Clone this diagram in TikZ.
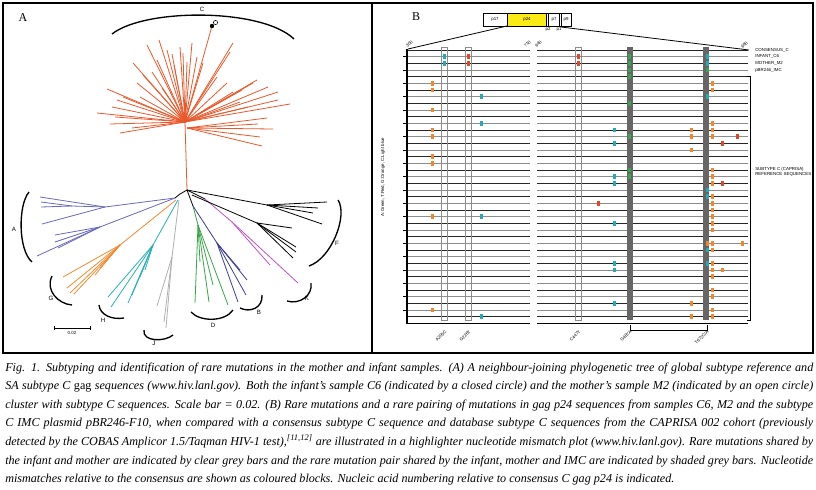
\documentclass[tikz,border=0pt]{standalone}
\usepackage{fontspec}
\setmainfont{Liberation Serif}
\setsansfont{Liberation Sans}
\usetikzlibrary{positioning}

\definecolor{subC}{RGB}{232,88,42}
\definecolor{subA}{RGB}{105,105,185}
\definecolor{subG}{RGB}{240,138,48}
\definecolor{subH}{RGB}{40,175,185}
\definecolor{subJ}{RGB}{175,175,175}
\definecolor{subD}{RGB}{55,165,70}
\definecolor{subB}{RGB}{60,60,150}
\definecolor{subK}{RGB}{195,80,195}
\definecolor{mmOrange}{RGB}{240,135,45}
\definecolor{mmCyan}{RGB}{35,170,180}
\definecolor{mmRed}{RGB}{225,70,40}
\definecolor{mmGreen}{RGB}{55,165,80}
\definecolor{geneYellow}{RGB}{250,235,20}

\tikzset{
  branch/.style={line width=0.6pt},
  brack/.style={line width=1pt},
  panel/.style={font=\fontsize{9}{10}\selectfont, inner sep=0pt},
  tlab/.style={font=\sffamily\fontsize{4.6}{5}\selectfont, inner sep=0pt},
  tiny/.style={font=\sffamily\fontsize{3.3}{3.6}\selectfont, inner sep=0pt},
  capline/.style={anchor=base west, inner sep=0pt, font=\itshape\fontsize{9.1}{11}\selectfont},
  clearbar/.style={draw=black!45, line width=0.5pt},
  shadebar/.style={fill=black!60},
}
\newcommand{\rowy}[1]{50+#1*6.6667}

\begin{document}
\begin{tikzpicture}[x=0.75pt,y=-0.75pt]
  \useasboundingbox (0,0) rectangle (816,489);
  \draw[line width=0.9pt] (3,3) rectangle (813,353);
  \draw[line width=0.9pt] (372,3) -- (372,353);

  % ---- panel A : tree
  \node[panel] (labA) at (23,18) {A};
  \coordinate (hub) at (185,122);
  \coordinate (hubb) at (187,128);
  \coordinate (root) at (187,190);
  \draw[branch,subC] (hub) -- (root);
  \foreach \ex/\ey in {147/45,159/40,167/50,172/54,174/65,183/53,192/43,187/62,197/57,203/63,
      233/43,230/52,137/83,143/75,133/63,157/60,152/72,107/89,117/100,112/107,97/113,115/117,
      110/124,120/133,132/128,140/97,123/97,227/83,233/92,242/90,253/83,257/80,268/87,278/92,
      278/100,290/104,217/77,240/102,248/107,180/47,162/88}
    \draw[branch,subC] (hub) -- (\ex,\ey);
  \foreach \ex/\ey in {267/118,258/124,273/129,260/137,262/146}
    \draw[branch,subC] (hubb) -- (\ex,\ey);
  \draw[branch,subC] (hub) -- (212,26) coordinate (cs);
  \fill (212,26) circle (2.2);
  \draw[fill=white,line width=0.4pt] (215.5,22.5) circle (2.1);

  % lower part of the tree
  \coordinate (nl) at (175,198);
  \coordinate (nr) at (193,206);
  \draw[branch] (root) -- (180,194) -- (nl);
  \draw[branch] (root) -- (nr);
  \draw[branch,subA] (nl) -- (105,207) coordinate (a1);
  \draw[branch,subA] (a1) -- (40,197);
  \draw[branch,subA] (a1) -- (72,206) -- (41,202);
  \draw[branch,subA] (72,206) -- (41,207);
  \draw[branch,subA] (a1) -- (42,224);
  \draw[branch,subA] (nl) -- (100,227) coordinate (a2);
  \foreach \ex/\ey in {55/235,55/242,58/248,37/256}
    \draw[branch,subA] (a2) -- (\ex,\ey);
  \draw[branch,subG] (176,200) -- (120,245) coordinate (g1);
  \foreach \ex/\ey in {63/277,67/288,70/293,74/294,95/275,100/268}
    \draw[branch,subG] (g1) -- (\ex,\ey);
  \draw[branch,subH] (178,200) -- (153,245) coordinate (h1);
  \foreach \ex/\ey in {108/297,111/307,128/303,140/277,132/295,145/270}
    \draw[branch,subH] (h1) -- (\ex,\ey);
  \draw[branch,subJ] (179,200) -- (172,257) coordinate (j1);
  \foreach \ex/\ey in {157/306,164/322,166/328}
    \draw[branch,subJ] (j1) -- (\ex,\ey);
  \draw[branch,subD] (nr) -- (198,225) coordinate (d1);
  \foreach \ex/\ey in {195/303,209/302,213/285,228/305,200/262}
    \draw[branch,subD] (d1) -- (\ex,\ey);
  \draw[branch,subB] (nr) -- (217,243) coordinate (b1);
  \foreach \ex/\ey in {238/302,246/295,247/280,240/270}
    \draw[branch,subB] (b1) -- (\ex,\ey);
  \draw[branch] (root) -- (205,199) coordinate (k0);
  \draw[branch,subK] (k0) -- (232,222) coordinate (k1);
  \draw[branch,subK] (k1) -- (298,283);
  \draw[branch,subK] (k1) -- (270,265);
  \draw[branch] (root) -- (267,205) coordinate (f1);
  \foreach \ex/\ey in {327/202,318/208,313/213,322/224}
    \draw[branch] (f1) -- (\ex,\ey);
  \draw[branch] (192,195) -- (257,223) coordinate (f2);
  \foreach \ex/\ey in {292/228,296/247,296/252,293/258}
    \draw[branch] (f2) -- (\ex,\ey);

  % clade brackets
  \draw[brack] (112,34) .. controls (145,8) and (262,8) .. (294,39);
  \node[tlab] (labC) at (202,9) {C};
  \draw[brack] (29,192) .. controls (18,205) and (18,250) .. (32,262);
  \node[tlab] (labAA) at (14,229) {A};
  \draw[brack] (52,276) .. controls (45,290) and (58,304) .. (72,305);
  \node[tlab] (labG) at (51,298) {G};
  \draw[brack] (99,305) .. controls (100,315) and (112,320) .. (124,318);
  \node[tlab] (labH) at (103,320) {H};
  \draw[brack] (144,330) .. controls (142,342) and (165,342) .. (173,335);
  \node[tlab] (labJ) at (154,343) {J};
  \draw[brack] (191,312) .. controls (200,322) and (225,322) .. (233,310);
  \node[tlab] (labD) at (213,325) {D};
  \draw[brack] (240,308) .. controls (250,313) and (263,308) .. (262,295);
  \node[tlab] (labB) at (259,312) {B};
  \draw[brack] (287,301) .. controls (300,305) and (313,295) .. (311,283);
  \node[tlab] (labK) at (307,298) {K};
  \draw[brack] (338,200) .. controls (348,215) and (332,258) .. (309,266);
  \node[tlab] (labF) at (337,243) {F};

  % scale bar
  \draw[line width=0.6pt] (54,328) -- (90,328);
  \draw[line width=0.6pt] (54,326) -- (54,330) (90,326) -- (90,330);
  \node[tiny] (scl) at (72,333) {0.02};

  % ---- panel B : mismatch plot
  \node[panel] (labBB) at (416,17) {B};
  \node[tiny,rotate=90] (key) at (383,177) {A:Green, T:Red, G:Orange, C:Light blue};

  \fill[geneYellow] (507,13) rectangle (546,26);
  \draw[line width=0.5pt] (483,13) rectangle (571,26);
  \foreach \xx in {507,546,548,559,561} \draw[line width=0.5pt] (\xx,13) -- (\xx,26);
  \node[tiny] (p17) at (495,19.5) {p17};
  \node[tiny] (p24) at (527,19.5) {p24};
  \node[tiny] (p7) at (554,19.5) {p7};
  \node[tiny] (p9) at (566,19.5) {p9};
  \node[tiny] (p2) at (548,29.5) {p2};
  \node[tiny] (p1) at (559,29.5) {p1};
  \draw[line width=0.6pt] (507,26) -- (408,49);
  \draw[line width=0.6pt] (561,27) -- (749,50);

  \node[tiny,rotate=45,anchor=south west] (n1) at (408,48) {300};
  \node[tiny,rotate=45,anchor=south west] (n2) at (526,48) {710};
  \node[tiny,rotate=45,anchor=south west] (n3) at (537,48) {640};
  \node[tiny,rotate=45,anchor=south west] (n4) at (743,49) {690};

  % rows
  \foreach \k in {0,2,...,40} {
    \draw[line width=0.65pt,black!85] (408,{\rowy{\k}}) -- (530,{\rowy{\k}});
    \draw[line width=0.65pt,black!85] (537,{\rowy{\k}}) -- (748,{\rowy{\k}});
  }
  \foreach \k in {1,3,...,39} {
    \draw[line width=0.65pt,black!45] (408,{\rowy{\k}}) -- (530,{\rowy{\k}});
    \draw[line width=0.65pt,black!45] (537,{\rowy{\k}}) -- (748,{\rowy{\k}});
    \draw[line width=0.6pt] (403,{\rowy{\k}}) -- (407,{\rowy{\k}});
  }
  \draw[line width=0.9pt] (407,49) -- (407,323.5) -- (530,323.5);
  \draw[line width=0.9pt] (537,323.5) -- (748,323.5);

  % bars
  \foreach \xx in {441,465,575} \draw[clearbar] (\xx,47) rectangle ++(6,273);
  \foreach \xx in {627,703} \fill[shadebar] (\xx,47) rectangle ++(6,273);

  % mismatch blocks
  \foreach \xx/\k in {432/5,432/6,432/9,432/12,432/13,432/16,432/17,432/25,432/39,
      691/12,691/13,691/15,691/38,691/40,712/5,712/6,712/11,712/12,712/13,712/18,712/19,
      712/20,712/22,712/23,712/24,712/25,712/26,712/27,712/29,712/30,712/32,712/33,712/34,
      712/36,712/37,712/39,712/40,722/33,742/29,707/29}
    \fill[mmOrange] (\xx-1.5,{\rowy{\k}-2.4}) rectangle ++(3,4.8);
  \foreach \xx/\k in {444/1,444/2,481/7,481/11,481/25,481/40,614/12,614/14,614/19,614/20,
      614/26,614/32,614/33,614/38,707/1,707/2,707/7,707/21,707/22,707/30,707/32}
    \fill[mmCyan] (\xx-1.5,{\rowy{\k}-2.4}) rectangle ++(3,4.8);
  \foreach \xx/\k in {468/1,468/2,578/1,578/2,598/23,737/13,722/14,722/20}
    \fill[mmRed] (\xx-1.5,{\rowy{\k}-2.4}) rectangle ++(3,4.8);
  \foreach \xx/\k in {629/1,629/2,629/3,629/4,629/8,629/13,629/18,629/19,707/3}
    \fill[mmGreen] (\xx-1.5,{\rowy{\k}-2.4}) rectangle ++(3,4.8);

  % sequence names
  \node[tiny,anchor=west] (cons) at (755,50) {CONSENSUS\_C};
  \node[tiny,anchor=west] (inf) at (755,56.7) {INFANT\_C6};
  \node[tiny,anchor=west] (mot) at (755,63.3) {MOTHER\_M2};
  \node[tiny,anchor=west] (imc) at (755,70) {pBR246\_IMC};
  \draw[line width=0.6pt] (747,76) -- (750,76) -- (750,320) -- (747,320);
  \node[tiny,anchor=west,align=left] (refs) at (755,172) {SUBTYPE C (CAPRISA)\\REFERENCE SEQUENCES};

  % mutation labels
  \node[tiny,rotate=45,anchor=east] (m1) at (446,331) {A205C};
  \node[tiny,rotate=45,anchor=east] (m2) at (470,331) {G226T};
  \node[tiny,rotate=45,anchor=east] (m3) at (580,331) {C447T};
  \node[tiny,rotate=45,anchor=east] (m4) at (631,331) {G487A};
  \node[tiny,rotate=45,anchor=east] (m5) at (708,331) {T672C/A};
  \draw[line width=0.6pt] (630,325) -- (630,330) -- (707,330) -- (707,325);

  % ---- caption
  \node[capline] (cap1) at (5,371) {\makebox[606pt][s]{Fig. 1. Subtyping and identification of rare mutations in the mother and infant samples. (A) A neighbour-joining phylogenetic tree of global subtype reference and}};
  \node[capline] (cap2) at (5,389.6) {\makebox[606pt][s]{SA subtype C \textup{gag} sequences (www.hiv.lanl.gov). Both the infant’s sample C6 (indicated by a closed circle) and the mother’s sample M2 (indicated by an open circle)}};
  \node[capline] (cap3) at (5,408.2) {\makebox[606pt][s]{cluster with subtype C sequences. Scale bar = 0.02. (B) Rare mutations and a rare pairing of mutations in gag p24 sequences from samples C6, M2 and the subtype}};
  \node[capline] (cap4) at (5,426.8) {\makebox[606pt][s]{C IMC plasmid pBR246-F10, when compared with a consensus subtype C sequence and database subtype C sequences from the CAPRISA 002 cohort (previously}};
  \node[capline] (cap5) at (5,445.4) {\makebox[606pt][s]{detected by the COBAS Amplicor 1.5/Taqman HIV-1 test),\textsuperscript{[11,12]} are illustrated in a highlighter nucleotide mismatch plot (www.hiv.lanl.gov). Rare mutations shared by}};
  \node[capline] (cap6) at (5,464) {\makebox[606pt][s]{the infant and mother are indicated by clear grey bars and the rare mutation pair shared by the infant, mother and IMC are indicated by shaded grey bars. Nucleotide}};
  \node[capline] (cap7) at (5,482.6) {mismatches relative to the consensus are shown as coloured blocks. Nucleic acid numbering relative to consensus C gag p24 is indicated.};
\end{tikzpicture}
\end{document}
